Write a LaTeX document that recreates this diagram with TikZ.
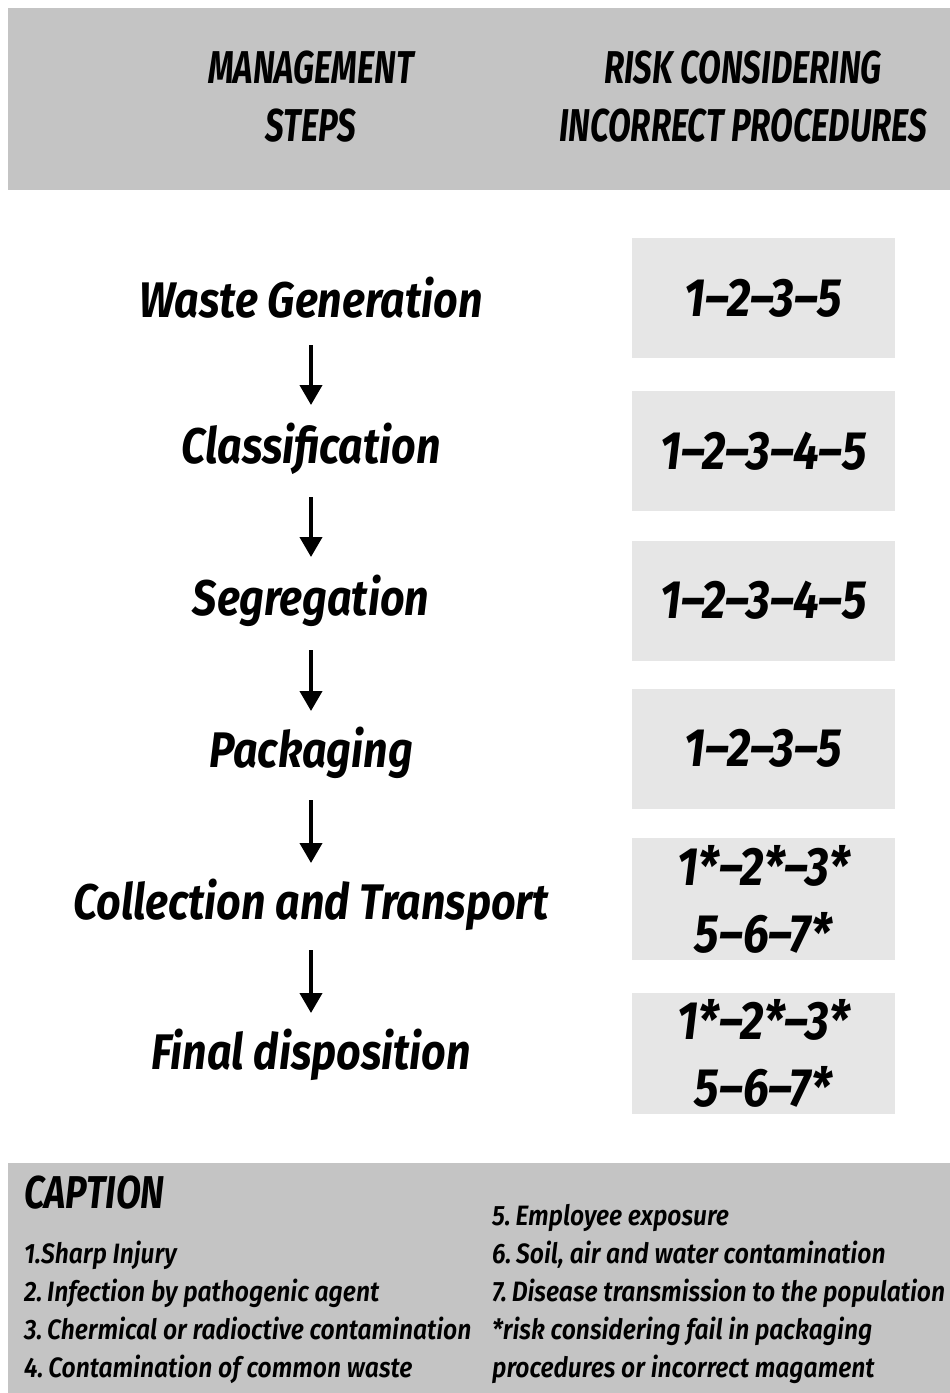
\documentclass[tikz,border=0pt]{standalone}
\usepackage{fontspec}
\setmainfont[FakeStretch=0.72,UprightFont=* Bold Italic,BoldFont=* Bold Italic,ItalicFont=* Bold Italic]{Fira Sans}
\newfontfamily\stepfont[FakeStretch=0.86,UprightFont=* Bold Italic,BoldFont=* Bold Italic,ItalicFont=* Bold Italic]{Fira Sans}
\newfontfamily\capfont[FakeStretch=0.88,UprightFont=* SemiBold Italic,BoldFont=* Bold Italic,ItalicFont=* SemiBold Italic]{Fira Sans}
\newfontfamily\captitlefont[FakeStretch=0.79,UprightFont=* Bold Italic,BoldFont=* Bold Italic,ItalicFont=* Bold Italic]{Fira Sans}
\usetikzlibrary{arrows.meta}
\definecolor{band}{HTML}{C4C4C4}
\definecolor{boxgray}{HTML}{E6E6E6}
\tikzset{
  hdr/.style={font=\fontsize{46}{58}\selectfont, align=center, inner sep=0pt},
  stepname/.style={font=\stepfont\fontsize{50}{60}\selectfont, inner sep=0pt},
  riskbox/.style={fill=boxgray, minimum width=263pt, minimum height=120pt, inner sep=0pt, align=center, font=\stepfont\fontsize{54}{67}\selectfont},
  flow/.style={line width=4pt, -{Triangle[width=22pt,length=20pt]}},
  captext/.style={font=\capfont\fontsize{28}{34}\selectfont, inner sep=0pt, anchor=base west},
}
\begin{document}
\begin{tikzpicture}[x=1pt,y=-1pt]
\useasboundingbox (0,0) rectangle (950,1393);
\fill[white] (0,0) rectangle (950,1393);
% bands
\fill[band] (8,8) rectangle (950,190);
\fill[band] (8,1163) rectangle (950,1393);
% header
\node[hdr] (h1) at (311,97) {MANAGEMENT\\STEPS};
\node[hdr] (h2) at (743,97) {RISK CONSIDERING\\INCORRECT PROCEDURES};
% steps
\node[stepname] (s1) at (311,298) {Waste Generation};
\node[stepname] (s2) at (311,449) {Classification};
\node[stepname] (s3) at (311,601) {Segregation};
\node[stepname] (s4) at (311,753) {Packaging};
\node[stepname] (s5) at (311,905) {Collection and Transport};
\node[stepname] (s6) at (311,1055) {Final disposition};
% arrows
\draw[flow] ([yshift=-47pt]s1.center) -- ([yshift=44pt]s2.center);
\draw[flow] ([yshift=-48pt]s2.center) -- ([yshift=44pt]s3.center);
\draw[flow] ([yshift=-49pt]s3.center) -- ([yshift=42pt]s4.center);
\draw[flow] ([yshift=-47pt]s4.center) -- ([yshift=42pt]s5.center);
\draw[flow] ([yshift=-45pt]s5.center) -- ([yshift=42pt]s6.center);
% risk boxes
\node[riskbox] (r1) at (763.5,298) {1–2–3–5};
\node[riskbox] (r2) at (763.5,451) {1–2–3–4–5};
\node[riskbox] (r3) at (763.5,600.5) {1–2–3–4–5};
\node[riskbox] (r4) at (763.5,748.5) {1–2–3–5};
\node[riskbox, minimum height=122pt] (r5) at (763.5,899) {1*–2*–3*\\5–6–7*};
\node[riskbox, minimum height=121pt] (r6) at (763.5,1053.5) {1*–2*–3*\\5–6–7*};
% caption
\node[inner sep=0pt, anchor=base west, font=\captitlefont\fontsize{46}{50}\selectfont] (ct) at (24,1208) {CAPTION};
\node[captext] (c1) at (24,1263) {1.Sharp Injury};
\node[captext] (c2) at (24,1301) {2.\,Infection by pathogenic agent};
\node[captext] (c3) at (24,1339) {3.\,Chermical or radioctive contamination};
\node[captext] (c4) at (24,1377) {4.\,Contamination of common waste};
\node[captext] (c5) at (492,1225) {5.\,Employee exposure};
\node[captext] (c6) at (492,1263) {6.\,Soil, air and water contamination};
\node[captext] (c7) at (492,1301) {7.\,Disease transmission to the population};
\node[captext] (c8) at (492,1339) {*risk considering fail in packaging};
\node[captext] (c9) at (492,1377) {procedures or incorrect magament};
\end{tikzpicture}
\end{document}
